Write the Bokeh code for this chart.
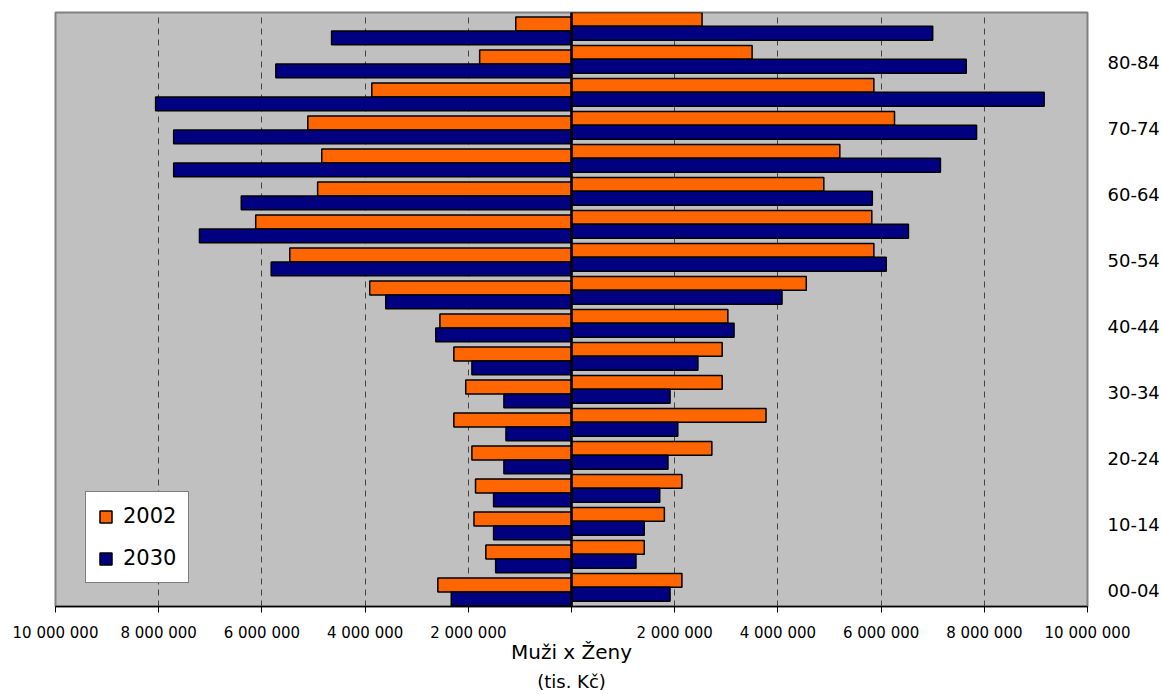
from bokeh.plotting import figure
from bokeh.models import (Range1d, LinearAxis, FixedTicker, Span, Legend, LegendItem,
                          ColumnDataSource)
from bokeh.embed import file_html
from bokeh.resources import INLINE

# ---- data ----
age_groups = ["00-04", "05-09", "10-14", "15-19", "20-24", "25-29", "30-34", "35-39",
              "40-44", "45-49", "50-54", "55-59", "60-64", "65-69", "70-74", "75-79",
              "80-84", "85+"]
men_2002 = [2.59e6, 1.66e6, 1.89e6, 1.86e6, 1.93e6, 2.28e6, 2.05e6, 2.28e6, 2.55e6,
            3.91e6, 5.46e6, 6.12e6, 4.92e6, 4.84e6, 5.11e6, 3.87e6, 1.78e6, 1.08e6]
men_2030 = [2.33e6, 1.47e6, 1.51e6, 1.51e6, 1.31e6, 1.27e6, 1.31e6, 1.93e6, 2.63e6,
            3.60e6, 5.82e6, 7.21e6, 6.40e6, 7.71e6, 7.71e6, 8.06e6, 5.73e6, 4.65e6]
women_2002 = [2.14e6, 1.41e6, 1.80e6, 2.14e6, 2.72e6, 3.77e6, 2.92e6, 2.92e6, 3.03e6,
              4.55e6, 5.86e6, 5.82e6, 4.89e6, 5.20e6, 6.26e6, 5.86e6, 3.50e6, 2.53e6]
women_2030 = [1.91e6, 1.25e6, 1.41e6, 1.71e6, 1.87e6, 2.06e6, 1.91e6, 2.45e6, 3.15e6,
              4.08e6, 6.10e6, 6.53e6, 5.83e6, 7.15e6, 7.85e6, 9.16e6, 7.65e6, 7.00e6]
x_ticks = [-10e6, -8e6, -6e6, -4e6, -2e6, 0, 2e6, 4e6, 6e6, 8e6, 10e6]
x_tick_labels = ["10 000 000", "8 000 000", "6 000 000", "4 000 000", "2 000 000", "",
                 "2 000 000", "4 000 000", "6 000 000", "8 000 000", "10 000 000"]
series_names = ["2002", "2030"]

ORANGE = "#FF6600"
NAVY = "#000080"
FONT = "DejaVu Sans"

idx = list(range(len(age_groups)))
bar_h = 0.42

p = figure(width=1162, height=694, output_backend="svg", toolbar_location=None,
           x_range=Range1d(-10e6, 10e6), y_range=Range1d(0, len(age_groups)),
           min_border_left=55, min_border_right=75, min_border_top=12,
           min_border_bottom=88, x_axis_location="below", y_axis_location=None)
p.background_fill_color = "#C0C0C0"
p.border_fill_color = "white"
p.outline_line_color = "#808080"
p.outline_line_width = 2

# bars: women (right) and men (left, slightly offset like the original)
src_w = ColumnDataSource(dict(
    y_o=[i + 0.79 for i in idx], y_n=[i + 0.37 for i in idx],
    v_o=women_2002, v_n=women_2030))
src_m = ColumnDataSource(dict(
    y_o=[i + 0.65 for i in idx], y_n=[i + 0.23 for i in idx],
    v_o=[-v for v in men_2002], v_n=[-v for v in men_2030]))

r_w_o = p.hbar(y="y_o", left=0, right="v_o", height=bar_h, source=src_w,
               fill_color=ORANGE, line_color="black", line_width=1.5)
r_w_n = p.hbar(y="y_n", left=0, right="v_n", height=bar_h, source=src_w,
               fill_color=NAVY, line_color="black", line_width=1.5)
r_m_o = p.hbar(y="y_o", left="v_o", right=0, height=bar_h, source=src_m,
               fill_color=ORANGE, line_color="black", line_width=1.5)
r_m_n = p.hbar(y="y_n", left="v_n", right=0, height=bar_h, source=src_m,
               fill_color=NAVY, line_color="black", line_width=1.5)

p.add_layout(Span(location=0, dimension="height", line_color="black", line_width=2.5))

# x axis
xa = p.xaxis[0]
xa.ticker = FixedTicker(ticks=x_ticks)
xa.major_label_overrides = {int(t): l for t, l in zip(x_ticks, x_tick_labels)}
xa.major_label_text_font = FONT
xa.major_label_text_font_size = "15px"
xa.major_label_text_color = "black"
xa.major_label_standoff = 11
xa.axis_line_color = "black"
xa.axis_line_width = 1.5
xa.major_tick_line_color = "black"
xa.major_tick_out = 6
xa.major_tick_in = 0
xa.minor_tick_line_color = None
xa.axis_label = "Muži x Ženy"
xa.axis_label_text_font = FONT
xa.axis_label_text_font_size = "20px"
xa.axis_label_text_font_style = "normal"
xa.axis_label_text_color = "black"
xa.axis_label_standoff = -5

xa2 = LinearAxis(ticker=FixedTicker(ticks=[]), axis_label="(tis. Kč)",
                 axis_line_color=None, major_tick_line_color=None,
                 minor_tick_line_color=None, major_label_text_font_size="0px",
                 axis_label_text_font=FONT, axis_label_text_font_size="18px",
                 axis_label_text_font_style="normal", axis_label_text_color="black",
                 axis_label_standoff=4)
p.add_layout(xa2, "below")

# right category axis
y_ticks = [i + 0.5 for i in idx if i % 2 == 0]
ya = LinearAxis(ticker=FixedTicker(ticks=y_ticks),
                major_label_overrides={i + 0.5: age_groups[i] for i in idx if i % 2 == 0},
                axis_line_color=None, major_tick_line_color=None,
                minor_tick_line_color=None, major_label_standoff=14,
                major_label_text_font=FONT, major_label_text_font_size="18px",
                major_label_text_color="black")
p.add_layout(ya, "right")

# grid
p.xgrid.ticker = FixedTicker(ticks=x_ticks)
p.xgrid.grid_line_color = "#444444"
p.xgrid.grid_line_dash = "6 5"
p.xgrid.grid_line_width = 1
p.ygrid.grid_line_color = None

legend = Legend(items=[LegendItem(label=series_names[0], renderers=[r_w_o]),
                       LegendItem(label=series_names[1], renderers=[r_w_n])],
                location=(30, 23))
legend.background_fill_color = "white"
legend.background_fill_alpha = 1
legend.border_line_color = "black"
legend.border_line_width = 1
legend.label_text_font = FONT
legend.label_text_font_size = "21px"
legend.label_text_color = "black"
legend.glyph_width = 15
legend.glyph_height = 15
legend.label_height = 18
legend.spacing = 18
legend.padding = 12
legend.margin = 0
legend.label_standoff = 10
p.add_layout(legend, "center")

open("out.html", "w").write(file_html(p, INLINE))
